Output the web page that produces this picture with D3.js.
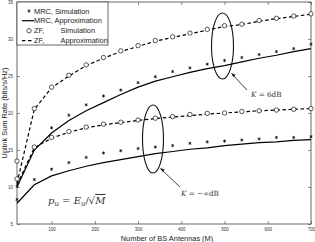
<!DOCTYPE html>
<html>
<head>
<meta charset="utf-8">
<script src="https://cdn.jsdelivr.net/npm/d3@7"></script>
<style>
body { margin: 0; background: #fff; }
svg { display: block; font-family: "Liberation Sans", Arial, sans-serif; }
</style>
</head>
<body>
<div class="chart"></div>
<script>
const width = 315;
const height = 242;
const margin = { top: 2, right: 4, bottom: 18, left: 17 };

// number of BS antennas
const antennas = [20, 60, 100, 140, 180, 220, 260, 300, 340, 380, 420, 460, 500, 540, 580, 620, 660, 700];

// K = 6dB
const mrc6Sim = [10.1, 15.2, 18.0, 19.7, 21.1, 22.3, 23.1, 24.1, 24.9, 25.6, 26.1, 26.6, 27.1, 27.5, 27.9, 28.3, 28.7, 29.3];
const mrc6App = [10.0, 15.0, 17.3, 19.0, 20.3, 21.4, 22.5, 23.5, 24.3, 24.9, 25.5, 26.0, 26.4, 26.9, 27.4, 27.8, 28.3, 28.7];
const zf6Sim = [13.5, 20.6, 23.5, 25.1, 26.5, 27.5, 28.4, 29.1, 29.8, 30.3, 30.8, 31.3, 31.8, 32.0, 32.5, 32.8, 33.1, 33.4];
const zf6App = [10.5, 20.5, 23.4, 25.0, 26.4, 27.4, 28.3, 29.0, 29.7, 30.2, 30.7, 31.2, 31.7, 31.95, 32.4, 32.75, 33.05, 33.35];

// K = -inf dB
const mrcInfSim = [8.3, 11.0, 12.4, 13.3, 14.0, 14.6, 14.9, 15.2, 15.4, 15.6, 15.9, 16.1, 16.2, 16.35, 16.5, 16.7, 16.7, 16.8];
const mrcInfApp = [7.8, 10.3, 11.5, 12.2, 12.8, 13.3, 13.7, 14.1, 14.5, 14.8, 15.1, 15.3, 15.6, 15.8, 16.0, 16.1, 16.3, 16.4];
const zfInfSim = [11.1, 15.4, 16.7, 17.5, 18.1, 18.5, 18.75, 19.05, 19.3, 19.5, 19.8, 19.95, 20.0, 20.2, 20.3, 20.4, 20.5, 20.6];
const zfInfApp = [10.3, 15.3, 16.6, 17.4, 18.0, 18.4, 18.7, 19.0, 19.25, 19.45, 19.65, 19.85, 20.0, 20.15, 20.3, 20.4, 20.5, 20.6];

const xTicks = [100, 200, 300, 400, 500, 600, 700];
const yTicks = [5, 10, 15, 20, 25, 30, 35];
const legendLabels = ["MRC, Simulation", "MRC, Approximation", "ZF,", "ZF,"];
const legendWords = ["", "", "Simulation", "Approximation"];

const svg = d3.select(".chart")
    .append("svg")
    .attr("width", width)
    .attr("height", height)

const x = d3.scaleLinear()
    .domain([20, 700])
    .range([margin.left, width - margin.right])

const y = d3.scaleLinear()
    .domain([5, 35])
    .range([height - margin.bottom, margin.top])

const star = d3.symbol(d3.symbolAsterisk, 7)

// frame
svg.append("rect")
    .attr("x", x(20))
    .attr("y", y(35))
    .attr("width", x(700) - x(20))
    .attr("height", y(5) - y(35))
    .attr("fill", "none")
    .attr("stroke", "#444")
    .attr("stroke-width", 0.8)

// axes, ticks inward
const xAxis = d3.axisBottom(x).tickValues(xTicks).tickSize(-3).tickPadding(3.5)
const yAxis = d3.axisLeft(y).tickValues(yTicks).tickSize(-3).tickPadding(4)

svg.append("g")
    .attr("transform", `translate(0, ${y(5)})`)
    .call(xAxis)
    .call(g => g.select(".domain").remove())
svg.append("g")
    .attr("transform", `translate(0, ${y(35)})`)
    .call(d3.axisTop(x).tickValues(xTicks).tickSize(-3).tickFormat(""))
    .call(g => g.select(".domain").remove())
svg.append("g")
    .attr("transform", `translate(${x(20)}, 0)`)
    .call(yAxis)
    .call(g => g.select(".domain").remove())
svg.append("g")
    .attr("transform", `translate(${x(700)}, 0)`)
    .call(d3.axisRight(y).tickValues(yTicks).tickSize(-3).tickFormat(""))
    .call(g => g.select(".domain").remove())

svg.selectAll(".tick line").attr("stroke", "#444").attr("stroke-width", 0.6)
svg.selectAll(".tick text").attr("font-size", 4.5).attr("fill", "#333")

// axis titles
svg.append("text")
    .text("Number of BS Antennas (M)")
    .attr("x", 167)
    .attr("y", 240.5)
    .attr("text-anchor", "middle")
    .attr("font-size", 7.4)
    .attr("fill", "#222")

svg.append("text")
    .text("Uplink Sum Rate (bits/s/Hz)")
    .attr("transform", `translate(${7}, ${113}) rotate(-90)`)
    .attr("text-anchor", "middle")
    .attr("font-size", 7.4)
    .attr("fill", "#222")

const series = [
    { sim: mrc6Sim, app: mrc6App, type: "mrc" },
    { sim: zf6Sim, app: zf6App, type: "zf" },
    { sim: mrcInfSim, app: mrcInfApp, type: "mrc" },
    { sim: zfInfSim, app: zfInfApp, type: "zf" }
]

const line = d3.line()
    .x((d, i) => x(antennas[i]))
    .y(d => y(d))

svg.selectAll("path.approx")
    .data(series)
    .join("path")
    .attr("class", "approx")
    .attr("fill", "none")
    .attr("stroke", "#000")
    .attr("stroke-width", 1.2)
    .style("stroke-dasharray", d => d.type === "zf" ? "3.5,2.5" : "0,0")
    .attr("d", d => line(d.app))

// simulation markers
series.forEach(s => {
    const g = svg.append("g")
    if (s.type === "zf") {
        g.selectAll("circle")
            .data(s.sim)
            .join("circle")
            .attr("cx", (d, i) => x(antennas[i]))
            .attr("cy", d => y(d))
            .attr("r", 2.2)
            .attr("fill", "#fff")
            .attr("stroke", "#111")
            .attr("stroke-width", 0.7)
    } else {
        g.selectAll("path")
            .data(s.sim)
            .join("path")
            .attr("transform", (d, i) => `translate(${x(antennas[i])}, ${y(d)})`)
            .attr("d", star)
            .attr("fill", "#111")
            .attr("stroke", "#111")
            .attr("stroke-width", 0.8)
    }
})

// annotations
const ann = svg.append("g").attr("stroke", "#111").attr("fill", "none")
ann.append("ellipse").attr("cx", 222.5).attr("cy", 46).attr("rx", 11).attr("ry", 33).attr("stroke-width", 1.1)
ann.append("ellipse").attr("cx", 153).attr("cy", 139).attr("rx", 10.5).attr("ry", 34).attr("stroke-width", 1.1)
ann.append("line").attr("x1", 247).attr("y1", 90).attr("x2", 233).attr("y2", 75).attr("stroke-width", 0.8)
ann.append("line").attr("x1", 180).attr("y1", 187).attr("x2", 162).attr("y2", 170).attr("stroke-width", 0.8)
ann.append("path").attr("d", "M231,73 L235.5,74.8 L233.5,77.2 Z").attr("fill", "#111").attr("stroke", "none")
ann.append("path").attr("d", "M160,168 L164.7,169.5 L162.6,172 Z").attr("fill", "#111").attr("stroke", "none")

const serif = "'DejaVu Serif', 'Liberation Serif', serif"
const k1 = svg.append("text").attr("x", 251).attr("y", 96.5).attr("font-family", serif).attr("font-size", 7.2).attr("fill", "#333")
k1.append("tspan").attr("font-style", "italic").text("K")
k1.append("tspan").text(" = 6dB")

const k2 = svg.append("text").attr("x", 181).attr("y", 196).attr("font-family", serif).attr("font-size", 7.2).attr("fill", "#333")
k2.append("tspan").attr("font-style", "italic").text("K")
k2.append("tspan").text(" = −∞dB")

const pu = svg.append("text").attr("x", 48).attr("y", 204).attr("font-family", serif).attr("font-size", 10).attr("fill", "#333")
pu.append("tspan").attr("font-style", "italic").text("p")
pu.append("tspan").attr("font-style", "italic").attr("font-size", 7).attr("dy", 2).text("u")
pu.append("tspan").attr("dy", -2).text(" = ")
pu.append("tspan").attr("font-style", "italic").text("E")
pu.append("tspan").attr("font-style", "italic").attr("font-size", 7).attr("dy", 2).text("u")
pu.append("tspan").attr("dy", -2).text("/√")
pu.append("tspan").attr("font-style", "italic").attr("text-decoration", "overline").text("M")

// legend
const legend = svg.append("g")
legend.append("rect")
    .attr("x", x(20))
    .attr("y", y(35))
    .attr("width", 91)
    .attr("height", 43)
    .attr("fill", "#fff")
    .attr("stroke", "#444")
    .attr("stroke-width", 0.8)

const rows = [11, 20.7, 30.7, 40.7]
legend.selectAll("text.lab")
    .data(legendLabels)
    .join("text")
    .attr("class", "lab")
    .attr("x", 34)
    .attr("y", (d, i) => rows[i] + 2.6)
    .attr("font-size", 7.4)
    .attr("fill", "#222")
    .text(d => d)
legend.selectAll("text.word")
    .data(legendWords)
    .join("text")
    .attr("class", "word")
    .attr("x", 60.5)
    .attr("y", (d, i) => rows[i] + 2.6)
    .attr("font-size", 7.4)
    .attr("fill", "#222")
    .text(d => d)

legend.append("path").attr("transform", `translate(29, ${rows[0]})`).attr("d", star).attr("fill", "#111").attr("stroke", "#111").attr("stroke-width", 0.8)
legend.append("line").attr("x1", 22).attr("x2", 34).attr("y1", rows[1]).attr("y2", rows[1]).attr("stroke", "#000").attr("stroke-width", 1.2)
legend.append("circle").attr("cx", 29).attr("cy", rows[2]).attr("r", 2.2).attr("fill", "#fff").attr("stroke", "#111").attr("stroke-width", 0.7)
legend.append("line").attr("x1", 22).attr("x2", 34).attr("y1", rows[3]).attr("y2", rows[3]).attr("stroke", "#000").attr("stroke-width", 1.2).style("stroke-dasharray", "3.5,2.5")
</script>
</body>
</html>
